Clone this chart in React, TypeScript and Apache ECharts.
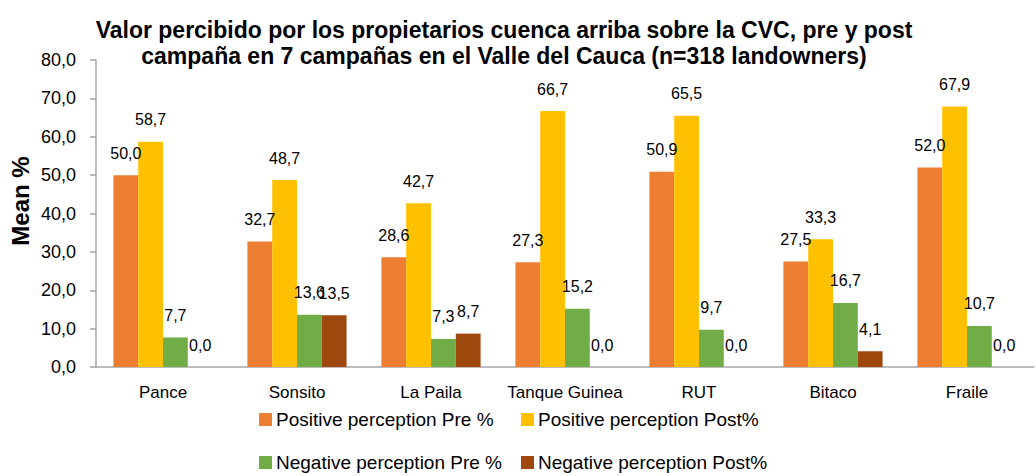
import React, { useEffect, useRef } from "react";
import * as echarts from "echarts";

const categories = ["Pance", "Sonsito", "La Paila", "Tanque Guinea", "RUT", "Bitaco", "Fraile"];
const seriesNames = [
  "Positive perception Pre %",
  "Positive perception Post%",
  "Negative perception Pre %",
  "Negative perception Post%",
];
const positivePre = [50.0, 32.7, 28.6, 27.3, 50.9, 27.5, 52.0];
const positivePost = [58.7, 48.7, 42.7, 66.7, 65.5, 33.3, 67.9];
const negativePre = [7.7, 13.6, 7.3, 15.2, 9.7, 16.7, 10.7];
const negativePost = [0.0, 13.5, 8.7, 0.0, 0.0, 4.1, 0.0];
const colors = ["#ED7D31", "#FFC000", "#70AD47", "#9E480E"];

const FONT = "'Liberation Sans', Arial, sans-serif";
const fmt = (v: number) => v.toFixed(1).replace(".", ",");

export default function App() {
  const ref = useRef<HTMLDivElement>(null);
  useEffect(() => {
    if (!ref.current) return;
    const chart = echarts.init(ref.current, undefined, { renderer: "svg" });
    const data = [positivePre, positivePost, negativePre, negativePost];
    const legendPos = [
      { left: 259, top: 410 },
      { left: 521, top: 410 },
      { left: 259, top: 453 },
      { left: 521, top: 453 },
    ];
    chart.setOption({
      animation: false,
      textStyle: { fontFamily: FONT },
      title: {
        text: "Valor percibido por los propietarios cuenca arriba sobre la CVC, pre y post\ncampaña en 7 campañas en el Valle del Cauca (n=318 landowners)",
        left: 504,
        top: 17,
        textAlign: "center",
        padding: 0,
        textStyle: { fontSize: 23, fontWeight: "bold", lineHeight: 26, color: "#000", fontFamily: FONT },
      },
      graphic: [
        {
          type: "text",
          x: 20,
          y: 201,
          rotation: Math.PI / 2,
          style: {
            text: "Mean %",
            fill: "#000",
            fontSize: 24,
            fontWeight: "bold",
            fontFamily: FONT,
            align: "center",
            verticalAlign: "middle",
          },
        },
      ],
      legend: legendPos.map((p, i) => ({
        left: p.left,
        top: p.top,
        padding: 0,
        itemWidth: 13,
        itemHeight: 13,
        itemGap: 6,
        icon: "rect",
        data: [seriesNames[i]],
        textStyle: { fontSize: 19, color: "#000", fontFamily: FONT, padding: [0, 0, 0, -1] },
      })),
      grid: { left: 96, right: 2, top: 60, bottom: 109 },
      xAxis: {
        type: "category",
        data: categories,
        axisLine: { lineStyle: { color: "#A6A6A6", width: 1.5 } },
        axisTick: { length: 6, lineStyle: { color: "#A6A6A6", width: 1.5 } },
        axisLabel: { interval: 0, fontSize: 17, color: "#000", margin: 17, fontFamily: FONT },
      },
      yAxis: {
        type: "value",
        min: 0,
        max: 80,
        interval: 10,
        axisLine: { show: true, lineStyle: { color: "#A6A6A6", width: 1.5 } },
        axisTick: { show: true, length: 6, lineStyle: { color: "#A6A6A6", width: 1.5 } },
        splitLine: { show: false },
        axisLabel: { fontSize: 18, color: "#000", margin: 20, formatter: (v: number) => fmt(v), fontFamily: FONT },
      },
      series: seriesNames.map((name, i) => ({
        name,
        type: "bar",
        data: data[i],
        barGap: "0%",
        barCategoryGap: "26%",
        itemStyle: { color: colors[i] },
        label: {
          show: true,
          position: "top",
          distance: 14,
          fontSize: 16,
          color: "#000",
          fontFamily: FONT,
          formatter: (p: any) => fmt(p.value),
        },
      })),
    });
    return () => chart.dispose();
  }, []);
  return <div ref={ref} style={{ width: 1036, height: 476, position: "absolute", left: 0, top: 0 }} />;
}
